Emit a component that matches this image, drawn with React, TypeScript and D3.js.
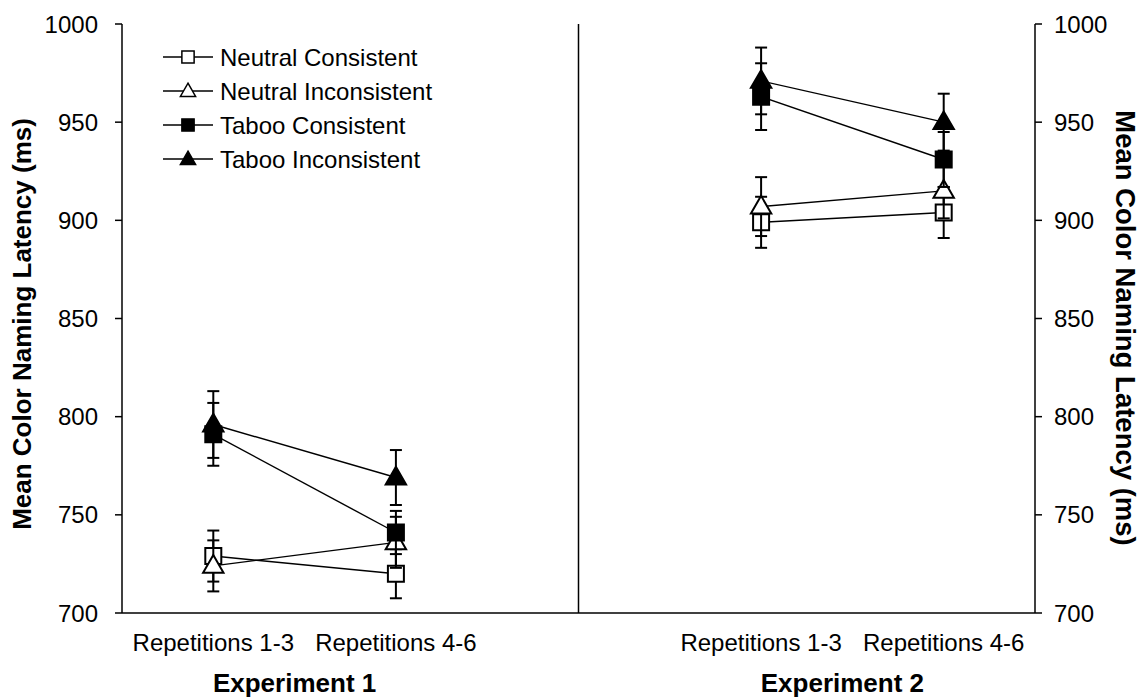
import React from "react";
import * as d3 from "d3";

// Category slots along the x axis; the empty slot separates the two experiments.
const slots = ["e1r1", "e1r2", "gap", "e2r1", "e2r2"];
const slotLabels = ["Repetitions 1-3", "Repetitions 4-6", "", "Repetitions 1-3", "Repetitions 4-6"];
const experiments = ["Experiment 1", "Experiment 2"];
const dataSlots = ["e1r1", "e1r2", "e2r1", "e2r2"];

const seriesNames = ["Neutral Consistent", "Neutral Inconsistent", "Taboo Consistent", "Taboo Inconsistent"];
const seriesShapes = ["square", "triangle", "square", "triangle"];
const seriesFilled = [false, false, true, true];

// Mean latencies (ms) per slot: E1 R1-3, E1 R4-6, E2 R1-3, E2 R4-6
const neutralConsistent = [729, 720, 899, 904];
const neutralInconsistent = [724, 736, 907, 915];
const tabooConsistent = [791, 741, 963, 931];
const tabooInconsistent = [796, 769, 971, 950];

// Standard errors (ms)
const neutralConsistentErr = [13, 12.5, 13, 13];
const neutralInconsistentErr = [13, 13, 15, 14];
const tabooConsistentErr = [16, 11, 17, 14];
const tabooInconsistentErr = [17, 14, 17, 14.5];

const yTicks = [700, 750, 800, 850, 900, 950, 1000];
const yTitle = "Mean Color Naming Latency (ms)";

const seriesValues = [neutralConsistent, neutralInconsistent, tabooConsistent, tabooInconsistent];
const seriesErrors = [neutralConsistentErr, neutralInconsistentErr, tabooConsistentErr, tabooInconsistentErr];

const W = 1141;
const H = 698;
const left = 122;
const right = 1035;
const top = 24;
const bottom = 613;
const FONT = "'Liberation Sans', Arial, Helvetica, sans-serif";

function Marker({ shape, filled, x, y, big }: { shape: string; filled: boolean; x: number; y: number; big: boolean }) {
  const size = shape === "square" ? (big ? 256 : 150) : big ? 180 : 100;
  const type = shape === "square" ? d3.symbolSquare : d3.symbolTriangle;
  const path = d3.symbol().type(type).size(size)() as string;
  const dy = shape === "triangle" ? 1 : 0;
  return (
    <path
      d={path}
      transform={`translate(${x},${y + dy})`}
      fill={filled ? "#000" : "#fff"}
      stroke="#000"
      strokeWidth={big ? 2 : 1.5}
    />
  );
}

export default function App() {
  const x = d3.scaleBand<string>().domain(slots).range([left, right]);
  const cx = (s: string) => (x(s) as number) + x.bandwidth() / 2;
  const y = d3.scaleLinear().domain([700, 1000]).range([bottom, top]);

  const line = d3
    .line<[string, number]>()
    .x((d) => cx(d[0]))
    .y((d) => y(d[1]));

  const groups = [
    [0, 1],
    [2, 3],
  ];

  return (
    <div style={{ position: "absolute", left: 0, top: 0, width: W, height: H, background: "#fff" }}>
      <svg width={W} height={H} style={{ display: "block" }} fontFamily={FONT}>
        <rect width={W} height={H} fill="#fff" />

        {/* axes */}
        <line x1={left} x2={left} y1={top} y2={bottom} stroke="#000" strokeWidth={1.5} />
        <line x1={right} x2={right} y1={top} y2={bottom} stroke="#000" strokeWidth={1.5} />
        <line x1={left} x2={right} y1={bottom} y2={bottom} stroke="#000" strokeWidth={1.5} />
        <line x1={cx("gap")} x2={cx("gap")} y1={top} y2={bottom} stroke="#000" strokeWidth={1.5} />

        {yTicks.map((t) => (
          <g key={t}>
            <line x1={left - 7} x2={left} y1={y(t)} y2={y(t)} stroke="#000" strokeWidth={1.5} />
            <line x1={right} x2={right + 7} y1={y(t)} y2={y(t)} stroke="#000" strokeWidth={1.5} />
            <text x={left - 24} y={y(t)} dy="0.36em" textAnchor="end" fontSize={24}>
              {t}
            </text>
            <text x={right + 19} y={y(t)} dy="0.36em" textAnchor="start" fontSize={24}>
              {t}
            </text>
          </g>
        ))}

        {/* category labels */}
        {slots.map((s, i) =>
          slotLabels[i] ? (
            <text key={s} x={cx(s)} y={651} textAnchor="middle" fontSize={24}>
              {slotLabels[i]}
            </text>
          ) : null
        )}
        {experiments.map((e, i) => {
          const a = cx(dataSlots[i * 2]);
          const b = cx(dataSlots[i * 2 + 1]);
          return (
            <text key={e} x={(a + b) / 2 - 10} y={692} textAnchor="middle" fontSize={26} fontWeight="bold">
              {e}
            </text>
          );
        })}

        {/* axis titles */}
        <text
          transform={`translate(31,324) rotate(-90)`}
          textAnchor="middle"
          fontSize={26}
          fontWeight="bold"
        >
          {yTitle}
        </text>
        <text
          transform={`translate(1116,328) rotate(90)`}
          textAnchor="middle"
          fontSize={27.5}
          fontWeight="bold"
        >
          {yTitle}
        </text>

        {/* series */}
        {seriesValues.map((vals, si) => (
          <g key={seriesNames[si]}>
            {groups.map((g, gi) => (
              <path
                key={gi}
                d={line(g.map((k) => [dataSlots[k], vals[k]] as [string, number])) as string}
                fill="none"
                stroke="#000"
                strokeWidth={1.4}
              />
            ))}
            {vals.map((v, k) => {
              const px = cx(dataSlots[k]);
              const e = seriesErrors[si][k];
              return (
                <g key={k} stroke="#000" strokeWidth={2}>
                  <line x1={px} x2={px} y1={y(v - e)} y2={y(v + e)} />
                  <line x1={px - 6} x2={px + 6} y1={y(v + e)} y2={y(v + e)} />
                  <line x1={px - 6} x2={px + 6} y1={y(v - e)} y2={y(v - e)} />
                </g>
              );
            })}
            {vals.map((v, k) => (
              <Marker
                key={k}
                shape={seriesShapes[si]}
                filled={seriesFilled[si]}
                x={cx(dataSlots[k])}
                y={y(v)}
                big
              />
            ))}
          </g>
        ))}

        {/* legend */}
        {seriesNames.map((n, i) => {
          const ly = 57 + i * 34;
          return (
            <g key={n}>
              <line x1={163} x2={213} y1={ly} y2={ly} stroke="#000" strokeWidth={1.4} />
              <Marker shape={seriesShapes[i]} filled={seriesFilled[i]} x={188} y={ly} big={false} />
              <text x={220} y={ly} dy="0.36em" fontSize={24}>
                {n}
              </text>
            </g>
          );
        })}
      </svg>
    </div>
  );
}
